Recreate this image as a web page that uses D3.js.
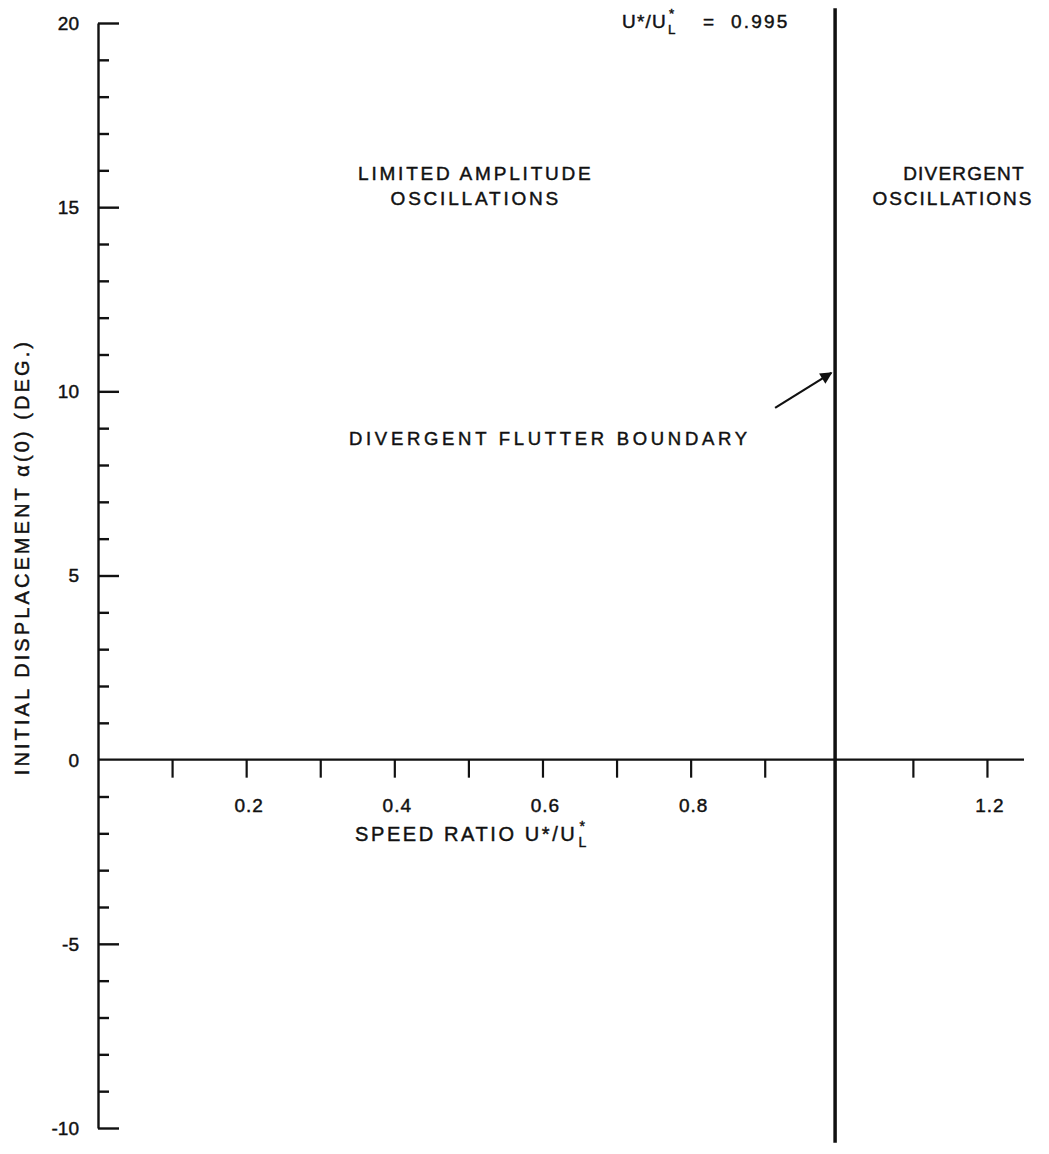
<!DOCTYPE html>
<html>
<head>
<meta charset="utf-8">
<script src="https://cdn.jsdelivr.net/npm/d3@7"></script>
<style>
  html, body { margin: 0; padding: 0; background: #fff; }
  svg { display: block; }
  text { font-family: "Liberation Sans", Arial, Helvetica, sans-serif; fill: #111; stroke: #111; stroke-width: 0.45px; }
</style>
</head>
<body>
<svg id="chart" width="1049" height="1154"></svg>
<script>
// ---- data ----
const xDomain = [0, 1.25];
const yDomain = [-10, 20];
const xTickValues = [0.1, 0.2, 0.3, 0.4, 0.5, 0.6, 0.7, 0.8, 0.9, 1.1, 1.2];
const xTickLabels = [0.2, 0.4, 0.6, 0.8, 1.2];
const yTickValues = [-10, -9, -8, -7, -6, -5, -4, -3, -2, -1, 1, 2, 3, 4, 5, 6, 7, 8, 9, 10, 11, 12, 13, 14, 15, 16, 17, 18, 19, 20];
const yTickLabels = [20, 15, 10, 5, 0, -5, -10];
const boundarySpeed = 0.995;
const boundaryLabel = "0.995";
const regionLabels = [
  { lines: ["LIMITED AMPLITUDE", "OSCILLATIONS"], xs: [0.51, 0.51], spacing: [2.8, 2.8], y: 15.75 },
  { lines: ["DIVERGENT", "OSCILLATIONS"], xs: [1.169, 1.154], spacing: [1.2, 2.0], y: 15.75 }
];
const arrowNote = { text: "DIVERGENT FLUTTER BOUNDARY", tx: 0.61, ty: 8.55, from: [0.914, 9.55], to: [0.99, 10.5] };

// ---- layout ----
const svg = d3.select("#chart");
const x = d3.scaleLinear().domain(xDomain).range([98, 1024]);
const y = d3.scaleLinear().domain(yDomain).range([1128, 23]);

svg.append("defs").append("marker")
  .attr("id", "arrow").attr("viewBox", "0 0 10 10").attr("refX", 9).attr("refY", 5)
  .attr("markerWidth", 16).attr("markerHeight", 12).attr("markerUnits", "userSpaceOnUse")
  .attr("orient", "auto")
  .append("path").attr("d", "M0,0 L10,5 L0,10 z").attr("fill", "#111");

// y axis (ticks pointing right)
const yAxis = d3.axisRight(y)
  .tickValues(yTickValues)
  .tickSize(0)
  .tickFormat("");
const gy = svg.append("g").attr("transform", `translate(${x(0)},0)`).call(yAxis);
gy.select(".domain").attr("stroke", "#111").attr("stroke-width", 2.4);
gy.selectAll(".tick line")
  .attr("x2", d => (d % 5 === 0 ? 21 : 11))
  .attr("stroke", "#111").attr("stroke-width", 2.4);

// y labels
svg.append("g").selectAll("text").data(yTickLabels).join("text")
  .attr("x", 79)
  .attr("y", d => y(d))
  .attr("dy", "0.36em")
  .attr("text-anchor", "end")
  .attr("font-size", 19)
  .text(d => (d < 0 ? "-" + Math.abs(d) : String(d)));

// x axis (ticks pointing down)
const xAxis = d3.axisBottom(x)
  .tickValues(xTickValues)
  .tickSize(18)
  .tickFormat("");
const gx = svg.append("g").attr("transform", `translate(0,${y(0)})`).call(xAxis);
gx.select(".domain").attr("stroke", "#111").attr("stroke-width", 2.2).attr("d", `M${x(0)},0H${x(xDomain[1])}`);
gx.selectAll(".tick line").attr("stroke", "#111").attr("stroke-width", 2.2);

svg.append("g").selectAll("text").data(xTickLabels).join("text")
  .attr("x", d => x(d) + 3)
  .attr("y", y(0) + 52)
  .attr("text-anchor", "middle")
  .attr("font-size", 19)
  .attr("letter-spacing", 1)
  .text(d => d.toFixed(1));

// helper: text with subscript L and superscript * stacked (separate text nodes)
function ratioLabel(x0, base, size, spacing, prefix) {
  const main = svg.append("text").attr("x", x0).attr("y", base)
    .attr("font-size", size).attr("letter-spacing", spacing).text(prefix);
  const w = main.node().getComputedTextLength();
  const sx = x0 + w + 1;
  svg.append("text").attr("x", sx).attr("y", base + 6).attr("font-size", size * 0.7).text("L");
  svg.append("text").attr("x", sx + 1).attr("y", base - 10).attr("font-size", size * 0.7).text("*");
  return sx + size * 0.7 * 0.6;
}

// x title
ratioLabel(355, y(0) + 81, 20, 2.6, "SPEED RATIO U*/U");

// y title
svg.append("text")
  .attr("transform", `translate(29,${y(5.5)}) rotate(-90)`)
  .attr("text-anchor", "middle")
  .attr("font-size", 20).attr("letter-spacing", 3.1)
  .text("INITIAL DISPLACEMENT α(0) (DEG.)");

// boundary line
svg.append("line")
  .attr("x1", x(boundarySpeed)).attr("x2", x(boundarySpeed))
  .attr("y1", y(20.4)).attr("y2", y(-10.4))
  .attr("stroke", "#111").attr("stroke-width", 3.5);

// boundary label
ratioLabel(622, 28, 19, 1.2, "U*/U");
svg.append("text").attr("x", 703).attr("y", 28).attr("font-size", 19).text("=");
svg.append("text").attr("x", 731).attr("y", 28).attr("font-size", 19).attr("letter-spacing", 2.2).text(boundaryLabel);

// region labels
regionLabels.forEach(r => {
  r.lines.forEach((ln, i) => {
    svg.append("text")
      .attr("text-anchor", "middle")
      .attr("font-size", 19).attr("letter-spacing", r.spacing[i])
      .attr("x", x(r.xs[i])).attr("y", y(r.y) + i * 25).text(ln);
  });
});

// arrow annotation
svg.append("text")
  .attr("x", x(arrowNote.tx)).attr("y", y(arrowNote.ty))
  .attr("text-anchor", "middle")
  .attr("font-size", 18.5).attr("letter-spacing", 3.7)
  .text(arrowNote.text);
svg.append("line")
  .attr("x1", x(arrowNote.from[0])).attr("y1", y(arrowNote.from[1]))
  .attr("x2", x(arrowNote.to[0])).attr("y2", y(arrowNote.to[1]))
  .attr("stroke", "#111").attr("stroke-width", 2.2)
  .attr("marker-end", "url(#arrow)");
</script>
</body>
</html>
